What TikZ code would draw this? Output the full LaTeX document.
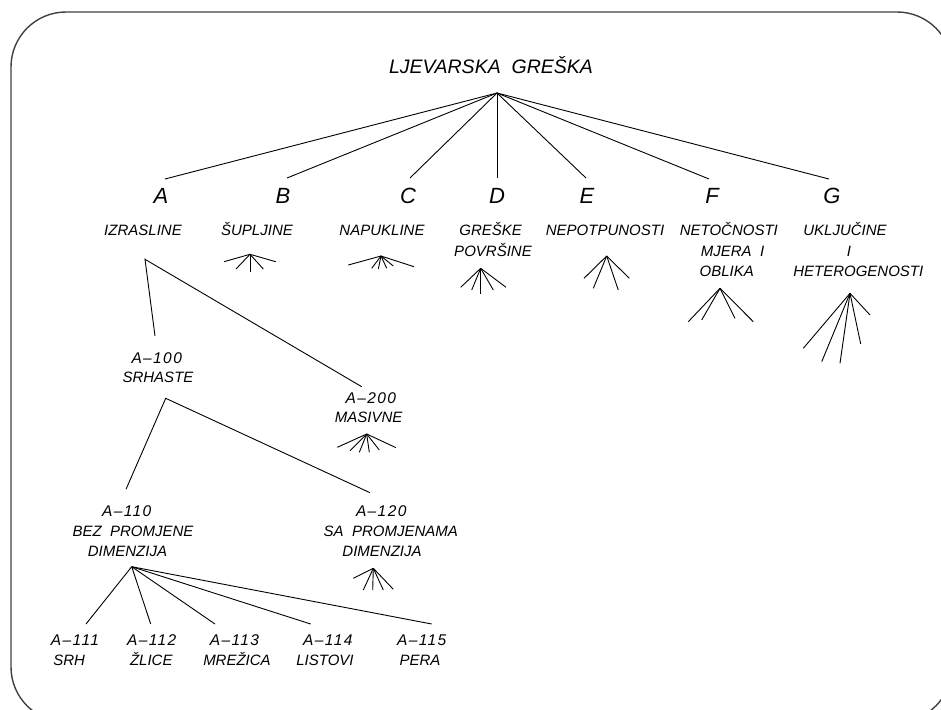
\documentclass[tikz,border=0pt]{standalone}
\usepackage{fontspec}
\setmainfont{Liberation Sans}
\begin{document}
\begin{tikzpicture}[x=1pt,y=-1pt,
  lbl/.style={inner sep=0pt, anchor=base, font=\fontsize{15}{18}\selectfont\itshape},
  code/.style={inner sep=0pt, anchor=base, font=\fontsize{15.5}{18}\selectfont\itshape\addfontfeatures{LetterSpace=9}},
  big/.style={inner sep=0pt, anchor=base, font=\fontsize{22}{26}\selectfont\itshape},
  ttl/.style={inner sep=0pt, anchor=base, font=\fontsize{19.5}{24}\selectfont\itshape},
  edge/.style={line width=0.9pt},
  frame/.style={line width=1.4pt, draw=black!75, rounded corners=55pt}]
\useasboundingbox (0,0) rectangle (941,709);
\begin{scope}
  \clip (0,0) rectangle (941,709);
  \draw[frame] (11,12) rectangle (952,722);
\end{scope}

% title
\node[ttl] (root) at (491,73.5) {LJEVARSKA\ \ GREŠKA};
\coordinate (r) at (497,93);

% letters
\node[big] (A) at (161,203) {A};
\node[big] (B) at (283,203) {B};
\node[big] (C) at (408,203) {C};
\node[big] (D) at (497,203) {D};
\node[big] (E) at (587,203) {E};
\node[big] (F) at (712,203) {F};
\node[big] (G) at (832,203) {G};
\coordinate (tA) at (165,179);
\coordinate (tB) at (287,178);
\coordinate (tC) at (410,178);
\coordinate (tD) at (497,178);
\coordinate (tE) at (586,178);
\coordinate (tF) at (709,179);
\coordinate (tG) at (829,179);
\foreach \t in {tA,tB,tC,tD,tE,tF,tG} \draw[edge] (r) -- (\t);

% category names
\node[lbl] (nA) at (143,235.5) {IZRASLINE};
\node[lbl] (nB) at (257,235.5) {ŠUPLJINE};
\node[lbl] (nC) at (382,235.5) {NAPUKLINE};
\node[lbl] (nD1) at (490.7,235.5) {GREŠKE};
\node[lbl] (nD2) at (493,256) {POVRŠINE};
\node[lbl] (nE) at (605,235.5) {NEPOTPUNOSTI};
\node[lbl] (nF1) at (728.8,235.5) {NETOČNOSTI};
\node[lbl] (nF2) at (732.5,256) {MJERA\ \ I};
\node[lbl] (nF3) at (726.7,276) {OBLIKA};
\node[lbl] (nG1) at (845,235.5) {UKLJUČINE};
\node[lbl] (nG2) at (849,256) {I};
\node[lbl] (nG3) at (858.3,276) {HETEROGENOSTI};

% fans
\coordinate (fB) at (250,254.3);
\foreach \p in {(224,261.7),(236,269),(250,271.7),(263.3,269),(275.7,261.7)}
  \draw[edge] (fB) -- \p;
\coordinate (fC) at (381,256);
\foreach \p in {(348.3,265),(371.7,268.3),(378.3,269),(386.7,268.3),(393.3,266),(414,266.7)}
  \draw[edge] (fC) -- \p;
\coordinate (fD) at (480.7,268.3);
\foreach \p in {(460.7,287.3),(471.7,290),(480.7,294),(493.3,290),(506,287.3)}
  \draw[edge] (fD) -- \p;
\coordinate (fE) at (606.7,256);
\foreach \p in {(584,278.3),(593.3,288.3),(618.3,290),(629.3,278.3)}
  \draw[edge] (fE) -- \p;
\coordinate (fF) at (720,288.3);
\foreach \p in {(688.3,321.7),(701.7,320),(735,318.3),(753.3,321.7)}
  \draw[edge] (fF) -- \p;
\coordinate (fG) at (850,293.3);
\foreach \p in {(803.3,348.3),(821.7,361.7),(840,363.3),(860.7,344),(870,315)}
  \draw[edge] (fG) -- \p;

% A subtree
\coordinate (sA) at (145,259.3);
\coordinate (tA100) at (155,336);
\coordinate (tA200) at (361.7,386.7);
\draw[edge] (tA100) -- (sA) -- (tA200);

\node[code] (A100a) at (156.7,363.5) {A–100};
\node[lbl] (A100b) at (158,382.7) {SRHASTE};
\node[code] (A200a) at (370.8,403.3) {A–200};
\node[lbl] (A200b) at (368.7,422.7) {MASIVNE};

\coordinate (fA200) at (366.7,434);
\foreach \p in {(337.3,447.3),(350,450.7),(359.3,452.3),(369.3,452.3),(379.3,450),(396,447.7)}
  \draw[edge] (fA200) -- \p;

\coordinate (sA100) at (165.7,398.3);
\coordinate (tA110) at (126,489.3);
\coordinate (tA120) at (370,492.7);
\draw[edge] (tA110) -- (sA100) -- (tA120);

\node[code] (A110a) at (126.7,516.7) {A–110};
\node[lbl] (A110b) at (133,536.7) {BEZ\ \ PROMJENE};
\node[lbl] (A110c) at (127.5,556) {DIMENZIJA};
\node[code] (A120a) at (381.2,516.7) {A–120};
\node[lbl] (A120b) at (390.8,536.7) {SA\ \ PROMJENAMA};
\node[lbl] (A120c) at (382,556) {DIMENZIJA};

\coordinate (fA120) at (373.3,568.3);
\foreach \p in {(353.3,578.3),(363.3,590),(372.7,590),(383.3,590),(393.3,589.3)}
  \draw[edge] (fA120) -- \p;

\coordinate (sA110) at (131.7,566.7);
\coordinate (t111) at (86,624);
\coordinate (t112) at (150.7,624);
\coordinate (t113) at (215,624);
\coordinate (t114) at (310.7,624);
\coordinate (t115) at (431.7,624);
\foreach \t in {t111,t112,t113,t114,t115} \draw[edge] (sA110) -- (\t);

\node[code] (A111a) at (75,645) {A–111};
\node[lbl] (A111b) at (69.2,665) {SRH};
\node[code] (A112a) at (151.7,645) {A–112};
\node[lbl] (A112b) at (151.3,665) {ŽLICE};
\node[code] (A113a) at (234.5,645) {A–113};
\node[lbl] (A113b) at (237,665) {MREŽICA};
\node[code] (A114a) at (327.8,645) {A–114};
\node[lbl] (A114b) at (325,665) {LISTOVI};
\node[code] (A115a) at (421.7,645) {A–115};
\node[lbl] (A115b) at (420,665) {PERA};
\end{tikzpicture}
\end{document}
